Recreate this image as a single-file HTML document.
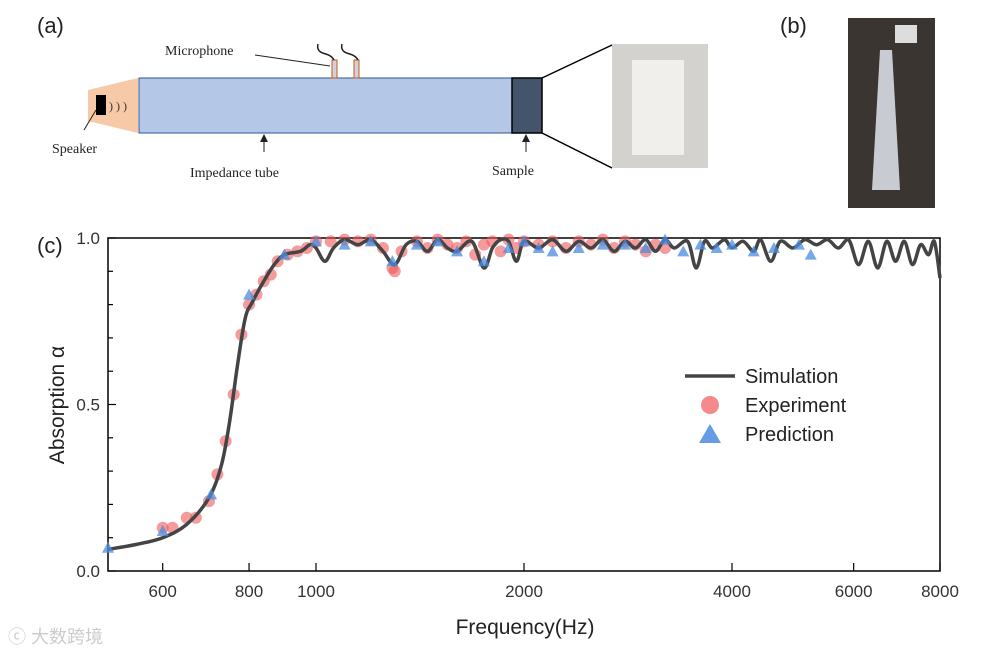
<!DOCTYPE html>
<html><head><meta charset="utf-8">
<style>
body{margin:0;background:#fff;}
#wrap{position:relative;width:990px;height:654px;overflow:hidden;font-family:"Liberation Sans","Noto Sans CJK SC",sans-serif;}
svg{position:absolute;left:0;top:0;}
</style></head>
<body>
<div id="wrap">
<svg width="990" height="654" viewBox="0 0 990 654">
  <g>
    <text x="37" y="33" font-size="22" fill="#222">(a)</text>
    <polygon points="88,90 138,78 138,133 88,121" fill="#f7c9a6"/>
    <rect x="96" y="95" width="10" height="20" fill="#000"/>
    <text x="109" y="110" font-size="12" font-family="Liberation Serif,serif" fill="#333">) ) )</text>
    <rect x="139" y="78" width="373" height="55" fill="#b4c7e7" stroke="#2f5597" stroke-width="1"/>
    <rect x="512" y="78" width="30" height="55" fill="#44546a" stroke="#000" stroke-width="1.5"/>
    <rect x="332" y="60" width="5" height="18" fill="#d0d0e0" stroke="#c55a11"/>
    <rect x="354" y="60" width="5" height="18" fill="#d0d0e0" stroke="#c55a11"/>
    <path d="M318,44 q-2,8 8,10 q6,2 8,6 M342,44 q-2,8 8,10 q6,2 8,6" stroke="#222" stroke-width="1.5" fill="none"/>
    <line x1="255" y1="55" x2="330" y2="66" stroke="#222" stroke-width="1"/>
    <text x="165" y="55" font-size="14" font-family="Liberation Serif,serif" fill="#222">Microphone</text>
    <line x1="96" y1="110" x2="84" y2="130" stroke="#222"/>
    <text x="52" y="153" font-size="14" font-family="Liberation Serif,serif" fill="#222">Speaker</text>
    <line x1="264" y1="135" x2="264" y2="152" stroke="#222"/><polygon points="260,142 268,142 264,134" fill="#222"/>
    <text x="190" y="177" font-size="14" font-family="Liberation Serif,serif" fill="#222">Impedance tube</text>
    <line x1="526" y1="135" x2="526" y2="152" stroke="#222"/><polygon points="522,142 530,142 526,134" fill="#222"/>
    <text x="492" y="175" font-size="14" font-family="Liberation Serif,serif" fill="#222">Sample</text>
    <line x1="542" y1="78" x2="612" y2="45" stroke="#000" stroke-width="1.5"/>
    <line x1="542" y1="133" x2="612" y2="168" stroke="#000" stroke-width="1.5"/>
    <rect x="612" y="44" width="96" height="124" fill="#d4d2cf"/>
    <rect x="632" y="60" width="52" height="95" fill="#f0efec"/>
  </g>
  <g>
    <text x="780" y="33" font-size="22" fill="#222">(b)</text>
    <rect x="848" y="18" width="87" height="190" fill="#3a3530"/>
    <polygon points="880,50 892,50 900,190 872,190" fill="#c8ccd2"/>
    <rect x="895" y="25" width="22" height="18" fill="#ddd"/>
  </g>
  <text x="37" y="253" font-size="22" fill="#222">(c)</text>
  <g id="chart"></g>
  <text x="8" y="643" font-size="18" fill="#ccc">ⓒ 大数跨境</text>
</svg>
</div>
<script>
const simFreq=[500,550,600,650,700,730,750,770,790,810,840,870,900,950,980,1000,1030,1060,1100,1150,1200,1250,1300,1350,1400,1450,1500,1550,1600,1680,1750,1800,1850,1900,1950,2000,2100,2200,2300,2400,2500,2600,2700,2800,2900,3000,3100,3200,3300,3450,3550,3650,3750,3900,4000,4150,4300,4400,4550,4700,4900,5100,5300,5500,5700,5900,6100,6300,6500,6700,6900,7100,7300,7500,7700,7850,8000];
const simVal=[0.065,0.08,0.10,0.14,0.22,0.32,0.45,0.62,0.76,0.81,0.87,0.92,0.95,0.96,0.98,0.97,0.93,0.97,0.995,0.98,0.995,0.96,0.92,0.98,0.99,0.96,0.995,0.97,0.96,0.99,0.91,0.97,0.995,0.99,0.93,0.99,0.97,0.995,0.96,0.99,0.97,0.995,0.96,0.99,0.97,0.995,0.96,0.995,0.97,0.99,0.91,0.99,0.97,0.995,0.97,0.99,0.96,0.995,0.93,0.99,0.97,0.995,0.98,0.995,0.97,0.995,0.92,0.99,0.91,0.99,0.93,0.99,0.92,0.98,0.95,0.99,0.88];
const expFreq=[600,620,650,670,700,720,740,760,780,800,820,840,860,880,910,940,970,1000,1050,1100,1150,1200,1250,1290,1300,1330,1400,1450,1500,1550,1600,1650,1700,1750,1800,1850,1900,1950,2000,2100,2200,2300,2400,2500,2600,2700,2800,2900,3000,3100,3200];
const expVal=[0.13,0.13,0.16,0.16,0.21,0.29,0.39,0.53,0.71,0.80,0.83,0.87,0.89,0.93,0.95,0.96,0.97,0.99,0.99,0.995,0.99,0.995,0.97,0.91,0.90,0.96,0.99,0.97,0.995,0.98,0.97,0.99,0.95,0.98,0.99,0.96,0.995,0.97,0.99,0.98,0.99,0.97,0.99,0.98,0.995,0.97,0.99,0.98,0.96,0.98,0.97];
const predFreq=[500,600,705,800,900,1000,1100,1200,1290,1400,1500,1600,1750,1900,2000,2100,2200,2400,2600,2800,3000,3200,3400,3600,3800,4000,4300,4600,5000,5200];
const predVal=[0.07,0.12,0.23,0.83,0.95,0.99,0.98,0.99,0.93,0.98,0.99,0.96,0.93,0.97,0.99,0.97,0.96,0.97,0.98,0.98,0.97,0.995,0.96,0.98,0.97,0.98,0.96,0.97,0.98,0.95];
const xTicks=[600,800,1000,2000,4000,6000,8000];
const xTickLabels=["600","800","1000","2000","4000","6000","8000"];
const yTicks=[0,0.5,1.0];
const yTickLabels=["0.0","0.5","1.0"];

const L=108,R=940,T=238,B=571;
const lmin=Math.log10(500),lmax=Math.log10(8000);
function X(f){return L+(Math.log10(f)-lmin)/(lmax-lmin)*(R-L);}
function Y(v){return B-v*(B-T);}
const NS="http://www.w3.org/2000/svg";
const g=document.getElementById('chart');
function mk(t,a,txt){const e=document.createElementNS(NS,t);for(const k in a)e.setAttribute(k,a[k]);if(txt!==undefined)e.textContent=txt;g.appendChild(e);return e;}

let box=mk('rect',{x:L,y:T,width:R-L,height:B-T,fill:'none',stroke:'#000','stroke-width':1.5});


for(let v=0;v<=10;v++){
  const len=(v%5===0)?8:5;
  let t=mk('line',{x1:L,y1:Y(v/10),x2:L+len,y2:Y(v/10),stroke:'#000','stroke-width':1.2});
  
  
}
yTicks.forEach((v,i)=>{
  let t=mk('text',{x:L-8,y:Y(v)+6,'font-size':17,'text-anchor':'end',fill:'#333'},yTickLabels[i]);
  
  
});
xTicks.forEach((f,i)=>{
  let t=mk('line',{x1:X(f),y1:B,x2:X(f),y2:B-8,stroke:'#000','stroke-width':1.2});
  
  
  let l=mk('text',{x:X(f),y:B+26,'font-size':17,'text-anchor':'middle',fill:'#333'},xTickLabels[i]);
  
  
});
let xt=mk('text',{x:525,y:634,'font-size':21,'text-anchor':'middle',fill:'#222'},'Frequency(Hz)');


let yt=mk('text',{x:0,y:0,'font-size':21,'text-anchor':'middle',fill:'#222',transform:'translate(64,405) rotate(-90)'},'Absorption α');



expFreq.forEach((f,i)=>{
  let c=mk('circle',{cx:X(f),cy:Y(expVal[i]),r:6,fill:'#f0585a','fill-opacity':0.6});
  
  
});
// smooth simulation line (Catmull-Rom)
const pts=simFreq.map((f,i)=>[X(f),Y(simVal[i])]);
let d='M'+pts[0][0].toFixed(1)+','+pts[0][1].toFixed(1);
for(let i=0;i<pts.length-1;i++){
  const p0=pts[Math.max(0,i-1)],p1=pts[i],p2=pts[i+1],p3=pts[Math.min(pts.length-1,i+2)];
  let c1y=p1[1]+(p2[1]-p0[1])/6, c2y=p2[1]-(p3[1]-p1[1])/6;
  c1y=Math.max(T,c1y); c2y=Math.max(T,c2y);
  d+=` C${(p1[0]+(p2[0]-p0[0])/6).toFixed(1)},${c1y.toFixed(1)} ${(p2[0]-(p3[0]-p1[0])/6).toFixed(1)},${c2y.toFixed(1)} ${p2[0].toFixed(1)},${p2[1].toFixed(1)}`;
}
let p=mk('path',{d:d,fill:'none',stroke:'#444','stroke-width':3.5,'stroke-linejoin':'round'});


predFreq.forEach((f,i)=>{
  const x=X(f),y=Y(predVal[i]);
  let t=mk('polygon',{points:`${x-6},${y+5} ${x+6},${y+5} ${x},${y-6}`,fill:'#4a8be0','fill-opacity':0.75});
  
  
});
let lg=mk('line',{x1:685,y1:376,x2:735,y2:376,stroke:'#444','stroke-width':3.5});


let lc=mk('circle',{cx:710,cy:405,r:9,fill:'#f0585a','fill-opacity':0.7});


let lp=mk('polygon',{points:'699,443 721,443 710,424',fill:'#4a8be0','fill-opacity':0.85});


[['Simulation',383],['Experiment',412],['Prediction',441]].forEach(a=>{
  let t=mk('text',{x:745,y:a[1],'font-size':20,fill:'#222'},a[0]);
  
  
});
</script>
</body></html>
